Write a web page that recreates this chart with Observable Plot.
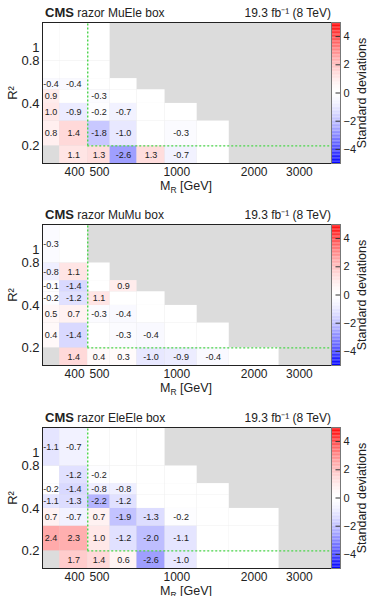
<!DOCTYPE html>
<html>
<head>
<meta charset="utf-8">
<script src="https://cdn.jsdelivr.net/npm/d3@7"></script>
<script src="https://cdn.jsdelivr.net/npm/@observablehq/plot@0.6"></script>
<style>
  body { margin: 0; background: #fff; width: 369px; height: 596px; overflow: hidden;
         font-family: "Liberation Sans", Arial, Helvetica, sans-serif; }
  .panel { position: relative; width: 369px; }
  .panel svg { display: block; }
  .cbar { position: absolute; top: 0; left: 331px; }
</style>
</head>
<body>
<div id="fig"></div>
<script>
// Binning of the razor variables
const mrEdges = [300, 350, 450, 550, 700, 900, 1200, 1600, 2500, 4000];
const r2Edges = [0.15, 0.2, 0.3, 0.4, 0.5, 0.6, 0.8, 1.5];
const mrTicks = [400, 500, 1000, 2000, 3000];
const r2Ticks = [0.2, 0.4, 0.8, 1];
const sigmaTicks = [-4, -2, 0, 2, 4];
const sigmaStops = d3.range(-5, 5, 0.1);

// Signal-region boundary (green dashed line)
const signalMR = 450;
const signalR2 = 0.2;

// First populated MR bin of each R² row (lowest row starts at 350 GeV)
const rowStartBin = [1, 0, 0, 0, 0, 0, 0];

// Significance per bin, rows from low to high R²; null = bin in range but empty
const muEleSigma = [
  [1.1, 1.3, -2.6, 1.3, -0.7, null],
  [0.8, 1.4, -1.8, -1.0, null, -0.3, null],
  [1.0, -0.9, -0.2, -0.7, null, null],
  [0.9, null, -0.3, null, null],
  [-0.4, -0.4, null, null],
  [null, null, null],
  [null, null, null]
];
const muMuSigma = [
  [1.4, 0.4, 0.3, -1.0, -0.9, -0.4, null],
  [0.4, -1.4, null, -0.3, -0.4, null, null],
  [0.5, 0.7, -0.3, -0.4, null, null],
  [-0.2, -1.2, 1.1, null, null],
  [-0.1, -1.4, null, 0.9],
  [-0.8, 1.1, null],
  [-0.3, null]
];
const eleEleSigma = [
  [1.7, 1.4, 0.6, -2.6, -1.0, null, null],
  [2.4, 2.3, 1.0, -1.2, -2.0, -1.1, null, null],
  [0.7, -0.7, 0.7, -1.9, -1.3, -0.2, null, null],
  [-1.1, -1.3, -2.2, -1.2, null, null, null],
  [-0.2, -1.4, -0.8, -0.8, null, null, null],
  [null, -1.2, -0.2, null, null, null],
  [-1.1, -0.7, null, null, null]
];

const boxNames = ["MuEle", "MuMu", "EleEle"];
const boxSigma = [muEleSigma, muMuSigma, eleEleSigma];
const panelHeights = [202, 203, 203];

// Blue–white–red palette, softened near zero
function sigColor(t) {
  const s = 2 * t - 1;
  const a = Math.pow(Math.abs(s), 1.5);
  return d3.interpolateRgb("#ffffff", s < 0 ? "#0000ff" : "#ff0000")(a);
}
const colorOpts = {type: "linear", domain: [-5, 5], interpolate: sigColor};

function buildCells(rows) {
  const out = [];
  rows.forEach((row, j) => row.forEach((v, k) => {
    const i = rowStartBin[j] + k;
    out.push({x1: mrEdges[i], x2: mrEdges[i + 1], y1: r2Edges[j], y2: r2Edges[j + 1], v});
  }));
  return out;
}

const fig = document.getElementById("fig");

boxNames.forEach((name, p) => {
  const cells = buildCells(boxSigma[p]);
  const H = panelHeights[p];
  const div = document.createElement("div");
  div.className = "panel";
  div.style.height = H + "px";

  const chart = Plot.plot({
    width: 369,
    height: 202,
    marginLeft: 42,
    marginRight: 38,
    marginTop: 22,
    marginBottom: 39,
    style: {fontFamily: "Liberation Sans, Arial, sans-serif", background: "transparent", overflow: "visible"},
    x: {type: "log", domain: [mrEdges[0], mrEdges[mrEdges.length - 1]]},
    y: {type: "log", domain: [r2Edges[0], r2Edges[r2Edges.length - 1]]},
    color: colorOpts,
    marks: [
      Plot.frame({fill: "#dcdcdc"}),
      Plot.rect(cells, {x1: "x1", x2: "x2", y1: "y1", y2: "y2", fill: d => d.v ?? 0}),
      Plot.text(cells.filter(d => d.v != null), {
        x: d => Math.sqrt(d.x1 * d.x2),
        y: d => Math.sqrt(d.y1 * d.y2),
        text: d => d.v.toFixed(1),
        fontSize: 9, fill: "#222"
      }),
      Plot.frame({stroke: "#222", strokeWidth: 1}),
      Plot.ruleX([signalMR], {y1: signalR2, y2: r2Edges[r2Edges.length - 1], stroke: "#4bd64b", strokeWidth: 1.4, strokeDasharray: "2,2"}),
      Plot.ruleY([signalR2], {x1: signalMR, x2: mrEdges[mrEdges.length - 1], stroke: "#4bd64b", strokeWidth: 1.4, strokeDasharray: "2,2"}),
      Plot.axisX({ticks: mrTicks, tickFormat: d => String(d), tickSize: 0, tickPadding: 4, fontSize: 12, fill: "#222", label: null}),
      Plot.axisY({ticks: r2Ticks, tickFormat: d => String(d), tickSize: 0, tickPadding: 3, fontSize: 13, fill: "#222", label: null}),
      Plot.text(["R²"], {frameAnchor: "left", dx: -30, rotate: -90, textAnchor: "middle", fontSize: 13, fill: "#222"})
    ]
  });

  const svg = d3.select(chart.tagName.toLowerCase() === "svg" ? chart : chart.querySelector("svg"));

  // Header: experiment, box name and luminosity
  const head = svg.append("text").attr("x", 45).attr("y", 17).attr("text-anchor", "start")
    .attr("fill", "#222").attr("font-size", 12);
  head.append("tspan").attr("font-weight", "bold").attr("font-size", 13).text("CMS");
  head.append("tspan").text(" razor " + name + " box");
  svg.append("text").attr("x", 331).attr("y", 17).attr("text-anchor", "end")
    .attr("fill", "#222").attr("font-size", 12).text("19.3 fb⁻¹ (8 TeV)");

  // x-axis title with subscript
  const xl = svg.append("text").attr("x", 186).attr("y", 190).attr("text-anchor", "middle")
    .attr("fill", "#222").attr("font-size", 12.5);
  xl.append("tspan").text("M");
  xl.append("tspan").attr("dy", 3).attr("font-size", 8.5).text("R");
  xl.append("tspan").attr("dy", -3).text(" [GeV]");

  // Colour bar
  const cbar = Plot.plot({
    width: 38,
    height: 202,
    marginLeft: 0,
    marginRight: 29,
    marginTop: 22,
    marginBottom: 39,
    style: {fontFamily: "Liberation Sans, Arial, sans-serif", background: "transparent", overflow: "visible"},
    x: {domain: [0, 1], axis: null},
    y: {domain: [-5, 5], axis: null},
    color: colorOpts,
    marks: [
      Plot.rect(sigmaStops, {x1: 0, x2: 1, y1: d => d, y2: d => d + 0.1, fill: d => d + 0.05}),
      Plot.ruleY(sigmaTicks, {x1: 0.5, x2: 1, stroke: "#333", strokeWidth: 1}),
      Plot.frame({stroke: "#777"}),
      Plot.axisY({anchor: "right", ticks: sigmaTicks, tickSize: 0, tickPadding: 3, fontSize: 11, fill: "#222", label: null}),
      Plot.text(["Standard deviations"], {frameAnchor: "right", dx: 21, rotate: -90, textAnchor: "middle", fontSize: 12.5, fill: "#222"})
    ]
  });
  cbar.classList.add("cbar");

  div.appendChild(chart);
  div.appendChild(cbar);
  fig.appendChild(div);
});
</script>
</body>
</html>
